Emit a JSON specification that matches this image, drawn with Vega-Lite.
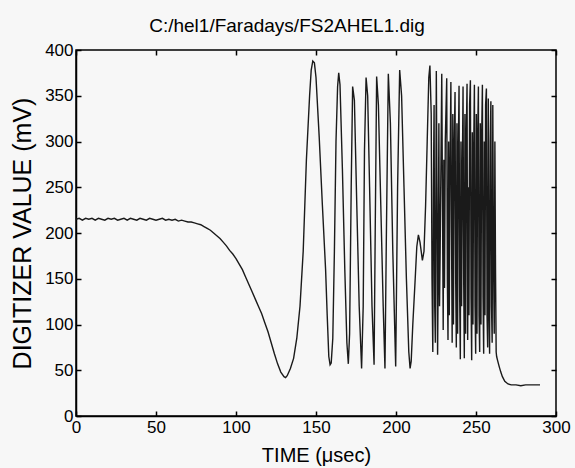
{
 "$schema": "https://vega.github.io/schema/vega-lite/v6.json",
 "width": 480, "height": 366,
 "autosize": {"type": "none"},
 "padding": {"left": 76, "top": 50, "right": 19, "bottom": 52},
 "background": "#f7f7f7",
 "title": {"text": "C:/hel1/Faradays/FS2AHEL1.dig", "fontSize": 19, "font": "Liberation Sans", "fontWeight": "normal", "dx": -29, "offset": 5, "color": "black"},
 "data": {"values": [
  {"t":0,"v":215},{"t":2,"v":216},{"t":4,"v":214},{"t":6,"v":216},{"t":8,"v":215},{"t":10,"v":216},{"t":12,"v":214},{"t":14,"v":216},{"t":16,"v":215},{"t":18,"v":214},{"t":20,"v":216},{"t":22,"v":215},{"t":24,"v":216},{"t":26,"v":214},{"t":28,"v":215},{"t":30,"v":216},{"t":32,"v":214},{"t":34,"v":216},{"t":36,"v":215},{"t":38,"v":214},{"t":40,"v":216},{"t":42,"v":215},{"t":44,"v":214},{"t":46,"v":216},{"t":48,"v":215},{"t":50,"v":214},{"t":52,"v":215},{"t":54,"v":216},{"t":56,"v":214},{"t":58,"v":215},{"t":60,"v":214},{"t":62,"v":215},{"t":64,"v":213},{"t":66,"v":214},{"t":68,"v":213},{"t":70,"v":212},{"t":72,"v":212},{"t":74,"v":211},{"t":76,"v":210},{"t":78,"v":209},{"t":80,"v":207},{"t":82,"v":205},{"t":84,"v":203},{"t":86,"v":200},{"t":88,"v":197},{"t":90,"v":194},{"t":92,"v":190},{"t":94,"v":186},{"t":96,"v":181},{"t":98,"v":177},{"t":100,"v":172},{"t":102,"v":166},{"t":104,"v":160},{"t":106,"v":152},{"t":108,"v":144},{"t":110,"v":136},{"t":112,"v":128},{"t":114,"v":120},{"t":116,"v":112},{"t":118,"v":102},{"t":120,"v":92},{"t":122,"v":80},{"t":124,"v":68},{"t":126,"v":57},{"t":128,"v":48},{"t":130,"v":43},{"t":131,"v":42},{"t":132,"v":44},{"t":134,"v":52},{"t":136,"v":63},{"t":138,"v":85},{"t":140,"v":120},{"t":142,"v":180},{"t":144,"v":280},{"t":146,"v":350},{"t":147,"v":378},{"t":148,"v":388},{"t":149,"v":386},{"t":150,"v":370},{"t":152,"v":305},{"t":154,"v":230},{"t":156,"v":160},{"t":157,"v":110},{"t":158,"v":65},{"t":158.8,"v":56},{"t":159.5,"v":58},{"t":160.5,"v":85},{"t":161.5,"v":180},{"t":162.5,"v":300},{"t":163.5,"v":360},{"t":164.2,"v":375},{"t":165,"v":362},{"t":166.5,"v":270},{"t":168,"v":160},{"t":169.3,"v":80},{"t":170.2,"v":57},{"t":171,"v":90},{"t":172,"v":250},{"t":172.9,"v":360},{"t":174,"v":345},{"t":175.5,"v":230},{"t":177,"v":120},{"t":178.5,"v":52},{"t":179.5,"v":120},{"t":180.3,"v":290},{"t":181.3,"v":370},{"t":182.3,"v":350},{"t":183.5,"v":250},{"t":185,"v":120},{"t":186.3,"v":56},{"t":187,"v":200},{"t":187.9,"v":371},{"t":189,"v":340},{"t":190.5,"v":230},{"t":192,"v":120},{"t":193.1,"v":52},{"t":194,"v":200},{"t":195.2,"v":374},{"t":196.5,"v":320},{"t":198,"v":180},{"t":199.8,"v":54},{"t":201,"v":250},{"t":202.3,"v":378},{"t":203.5,"v":350},{"t":205,"v":250},{"t":206.5,"v":150},{"t":208,"v":70},{"t":208.8,"v":52},{"t":209.5,"v":60},{"t":210.5,"v":100},{"t":212,"v":150},{"t":213,"v":185},{"t":214,"v":198},{"t":215,"v":190},{"t":216.5,"v":170},{"t":217.5,"v":180},{"t":218.5,"v":230},{"t":219.5,"v":300},{"t":220.5,"v":370},{"t":221.2,"v":383},{"t":222,"v":330},{"t":222.5,"v":150},{"t":223,"v":70},{"t":223.4,"v":250},{"t":223.8,"v":340},{"t":224.2,"v":120},{"t":224.6,"v":80},{"t":225.2,"v":377},{"t":225.6,"v":250},{"t":226,"v":67},{"t":226.4,"v":160},{"t":226.8,"v":320},{"t":227.2,"v":120},{"t":227.6,"v":180},{"t":228.6,"v":374},{"t":229,"v":250},{"t":229.5,"v":94},{"t":229.9,"v":280},{"t":230.3,"v":140},{"t":230.8,"v":300},{"t":231.7,"v":369},{"t":232.1,"v":150},{"t":232.5,"v":83},{"t":232.9,"v":300},{"t":233.3,"v":110},{"t":233.7,"v":260},{"t":234.3,"v":365},{"t":234.7,"v":200},{"t":235.1,"v":80},{"t":235.5,"v":330},{"t":235.9,"v":100},{"t":236.4,"v":300},{"t":236.9,"v":354},{"t":237.3,"v":150},{"t":237.7,"v":75},{"t":238.1,"v":320},{"t":238.5,"v":90},{"t":238.9,"v":280},{"t":239.4,"v":361},{"t":239.8,"v":130},{"t":240.2,"v":62},{"t":240.6,"v":300},{"t":241,"v":120},{"t":241.4,"v":250},{"t":241.9,"v":360},{"t":242.3,"v":150},{"t":242.7,"v":63},{"t":243.1,"v":330},{"t":243.5,"v":90},{"t":243.9,"v":300},{"t":244.4,"v":363},{"t":244.8,"v":83},{"t":245.2,"v":250},{"t":245.6,"v":110},{"t":246,"v":340},{"t":246.5,"v":367},{"t":246.9,"v":130},{"t":247.3,"v":61},{"t":247.7,"v":310},{"t":248.1,"v":100},{"t":248.5,"v":280},{"t":249,"v":362},{"t":249.4,"v":120},{"t":249.8,"v":68},{"t":250.2,"v":330},{"t":250.6,"v":90},{"t":251,"v":300},{"t":251.5,"v":360},{"t":251.9,"v":110},{"t":252.3,"v":70},{"t":252.7,"v":320},{"t":253.1,"v":100},{"t":253.5,"v":300},{"t":254,"v":362},{"t":254.4,"v":130},{"t":254.8,"v":68},{"t":255.2,"v":300},{"t":255.6,"v":110},{"t":256,"v":340},{"t":256.5,"v":358},{"t":256.9,"v":110},{"t":257.3,"v":75},{"t":257.7,"v":347},{"t":258.1,"v":120},{"t":258.5,"v":68},{"t":258.9,"v":300},{"t":259.3,"v":344},{"t":259.7,"v":120},{"t":260.1,"v":80},{"t":260.5,"v":340},{"t":260.9,"v":180},{"t":261.4,"v":90},{"t":261.8,"v":300},{"t":262.2,"v":160},{"t":262.6,"v":70},{"t":262.9,"v":65},{"t":263.6,"v":60},{"t":264.5,"v":54},{"t":265.5,"v":48},{"t":266.5,"v":43},{"t":268,"v":38},{"t":270,"v":35},{"t":272,"v":34},{"t":275,"v":34},{"t":278,"v":33},{"t":281,"v":34},{"t":284,"v":34},{"t":287,"v":34},{"t":290,"v":34}
 ]},
 "layer": [
  {"mark": {"type": "line", "color": "#1a1a1a", "strokeWidth": 1.4},
   "encoding": {
    "x": {"field": "t", "type": "quantitative", "scale": {"domain": [0, 300], "nice": false},
          "axis": {"orient": "bottom", "title": "TIME (\u03bcsec)", "values": [0,50,100,150,200,250,300], "titlePadding": 10}},
    "y": {"field": "v", "type": "quantitative", "scale": {"domain": [0, 400], "nice": false},
          "axis": {"orient": "left", "title": "DIGITIZER VALUE (mV)", "values": [0,50,100,150,200,250,300,350,400], "titlePadding": 9, "titleFontSize": 25}}
   }},
  {"mark": {"type": "line", "opacity": 0},
   "encoding": {
    "x": {"field": "t", "type": "quantitative", "axis": {"orient": "top", "title": null, "labels": false, "domain": false, "values": [0,50,100,150,200,250,300]}},
    "y": {"field": "v", "type": "quantitative", "axis": {"orient": "right", "title": null, "labels": false, "domain": false, "values": [0,50,100,150,200,250,300,350,400]}}
   }}
 ],
 "resolve": {"axis": {"x": "independent", "y": "independent"}},
 "config": {
  "view": {"stroke": "black", "strokeWidth": 1.5},
  "axis": {"grid": false, "domainColor": "black", "domainWidth": 1.5, "tickColor": "black", "tickWidth": 1.5, "tickSize": -5, "labelFlush": false,
           "labelFont": "Liberation Sans", "labelFontSize": 17, "labelColor": "black", "labelPadding": 8,
           "titleFont": "Liberation Sans", "titleFontSize": 20, "titleFontWeight": "normal", "titleColor": "black"}
 }
}
